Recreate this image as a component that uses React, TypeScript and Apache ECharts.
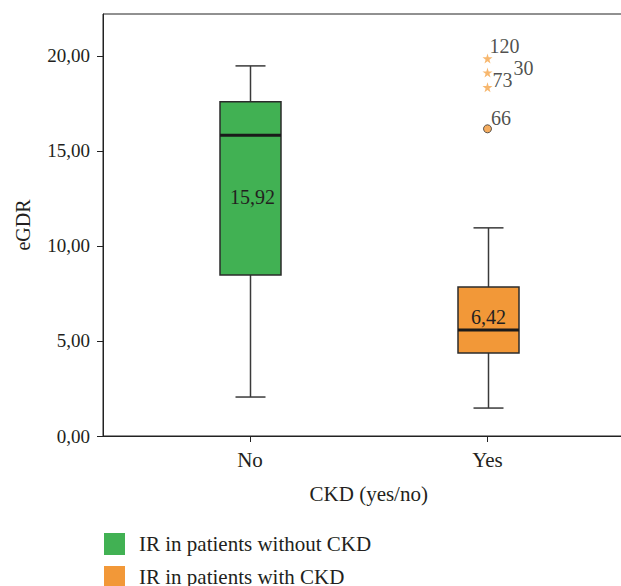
import React, { useEffect, useRef } from "react";
import * as echarts from "echarts";

// ---- data ----
const categories = ["No", "Yes"];
const seriesNames = ["IR in patients without CKD", "IR in patients with CKD"];
// [min, Q1, median, Q3, max]
const boxNo = [2.05, 8.47, 15.82, 17.58, 19.47];
const boxYes = [1.47, 4.37, 5.58, 7.84, 10.95];
const boxLabels = ["15,92", "6,42"];
const starOutliers = [19.86, 19.12, 18.35];
const starIds = ["120", "30", "73"];
const circleOutliers = [16.16];
const circleIds = ["66"];
const yTickValues = [0, 5, 10, 15, 20];
const yMax = 22.2;

// ---- styles ----
const FONT = "'Liberation Serif', 'DejaVu Serif', serif";
const TEXT = "#231f20";
const boxColors = ["#41b153", "#f29838"];
const boxLabelDy = [8.5, -3];
const boxLabelDx = [2, 0];
const starLabelOffsets = [
  [-3, -12],
  [21, -5],
  [0, -7],
];
const circleLabelOffsets = [[-1, -11]];

const fmt = (v: number) => v.toFixed(2).replace(".", ",");

function makeRender(idx: number) {
  return (params: any, api: any) => {
    const x = api.value(0);
    const pMin = api.coord([x, api.value(1)]);
    const pQ1 = api.coord([x, api.value(2)]);
    const pMed = api.coord([x, api.value(3)]);
    const pQ3 = api.coord([x, api.value(4)]);
    const pMax = api.coord([x, api.value(5)]);
    const cx = Math.round(pMin[0]) + 0.5;
    const bw = 61;
    const cw = 30;
    const wStroke = { stroke: "#3a3a3a", lineWidth: 1.5 };
    return {
      type: "group",
      children: [
        { type: "line", shape: { x1: cx, y1: pMax[1], x2: cx, y2: pQ3[1] }, style: wStroke },
        { type: "line", shape: { x1: cx, y1: pQ1[1], x2: cx, y2: pMin[1] }, style: wStroke },
        { type: "line", shape: { x1: cx - cw / 2, y1: pMax[1], x2: cx + cw / 2, y2: pMax[1] }, style: wStroke },
        { type: "line", shape: { x1: cx - cw / 2, y1: pMin[1], x2: cx + cw / 2, y2: pMin[1] }, style: wStroke },
        {
          type: "rect",
          shape: { x: cx - bw / 2, y: pQ3[1], width: bw, height: pQ1[1] - pQ3[1] },
          style: { fill: boxColors[idx], stroke: "#2b2b2b", lineWidth: 1.5 },
        },
        {
          type: "line",
          shape: { x1: cx - bw / 2, y1: pMed[1], x2: cx + bw / 2, y2: pMed[1] },
          style: { stroke: "#1a1a1a", lineWidth: 3 },
        },
        {
          type: "text",
          x: cx + boxLabelDx[idx],
          y: (pQ1[1] + pQ3[1]) / 2 + boxLabelDy[idx],
          style: {
            text: boxLabels[idx],
            fill: TEXT,
            font: `20px ${FONT}`,
            align: "center",
            verticalAlign: "middle",
          },
        },
      ],
    };
  };
}

const STAR =
  "path://M50,0 L61,35 L98,35 L68,57 L79,91 L50,70 L21,91 L32,57 L2,35 L39,35 Z";

export default function App() {
  const ref = useRef<HTMLDivElement>(null);
  useEffect(() => {
    if (!ref.current) return;
    const chart = echarts.init(ref.current, undefined, { renderer: "svg" });
    const option: any = {
      animation: false,
      backgroundColor: "#ffffff",
      textStyle: { fontFamily: FONT, color: TEXT },
      grid: [
        { left: 131.25, top: 14, width: 475, height: 422, containLabel: false },
        {
          left: 103,
          top: 14,
          width: 700,
          height: 422,
          show: true,
          borderColor: "#222",
          borderWidth: 1,
          containLabel: false,
        },
      ],
      xAxis: [
        {
          type: "category",
          gridIndex: 0,
          data: categories,
          boundaryGap: true,
          axisLine: { show: false },
          axisTick: { show: true, alignWithLabel: true, length: 6, lineStyle: { color: "#222" } },
          axisLabel: { fontSize: 21, color: TEXT, fontFamily: FONT, margin: 13 },
          name: "CKD (yes/no)",
          nameLocation: "middle",
          nameGap: 47,
          nameTextStyle: { fontSize: 21, color: TEXT, fontFamily: FONT },
        },
        {
          type: "value",
          gridIndex: 1,
          min: 0,
          max: 1,
          axisLine: { show: true, lineStyle: { color: "#222", width: 1 } },
          axisTick: { show: false },
          axisLabel: { show: false },
          splitLine: { show: false },
        },
      ],
      yAxis: [
        {
          type: "value",
          gridIndex: 0,
          min: 0,
          max: yMax,
          show: false,
          splitLine: { show: false },
        },
        {
          type: "value",
          gridIndex: 1,
          min: 0,
          max: yMax,
          interval: 5,
          axisLine: { show: true, lineStyle: { color: "#222", width: 1 } },
          axisTick: {
            show: true,
            length: 6,
            customValues: yTickValues,
            lineStyle: { color: "#222" },
          },
          axisLabel: {
            customValues: yTickValues,
            formatter: (v: number) => fmt(v),
            fontSize: 19,
            color: TEXT,
            fontFamily: FONT,
            margin: 13,
          },
          splitLine: { show: false },
        },
      ],
      legend: {
        data: seriesNames.map((n) => ({ name: n, icon: "rect" })),
        orient: "vertical",
        left: 104,
        top: 533,
        padding: 0,
        itemWidth: 21,
        itemHeight: 22,
        itemGap: 11,
        selectedMode: false,
        textStyle: { fontSize: 21, color: TEXT, fontFamily: FONT, padding: [0, 0, 0, 9] },
      },
      graphic: [
        {
          type: "text",
          x: 23,
          y: 225,
          rotation: Math.PI / 2,
          style: {
            text: "eGDR",
            font: `20px ${FONT}`,
            fill: TEXT,
            align: "center",
            verticalAlign: "middle",
          },
        },
      ],
      series: [
        {
          name: seriesNames[0],
          type: "custom",
          xAxisIndex: 0,
          yAxisIndex: 0,
          itemStyle: { color: boxColors[0] },
          renderItem: makeRender(0),
          encode: { x: 0, y: [1, 2, 3, 4, 5] },
          data: [[0, ...boxNo]],
        },
        {
          name: seriesNames[1],
          type: "custom",
          xAxisIndex: 0,
          yAxisIndex: 0,
          itemStyle: { color: boxColors[1] },
          renderItem: makeRender(1),
          encode: { x: 0, y: [1, 2, 3, 4, 5] },
          data: [[1, ...boxYes]],
        },
        {
          name: "extreme",
          type: "scatter",
          xAxisIndex: 0,
          yAxisIndex: 0,
          symbol: STAR,
          symbolSize: 10,
          itemStyle: { color: "#f5a54a" },
          data: starOutliers.map((v, i) => ({
            value: [1, v],
            label: {
              show: true,
              formatter: starIds[i],
              position: "right",
              distance: 0,
              offset: starLabelOffsets[i],
              fontSize: 20,
              color: TEXT,
              fontFamily: FONT,
            },
          })),
        },
        {
          name: "outlier",
          type: "scatter",
          xAxisIndex: 0,
          yAxisIndex: 0,
          symbol: "circle",
          symbolSize: 8,
          itemStyle: { color: "#f29838", borderColor: "#333", borderWidth: 1 },
          data: circleOutliers.map((v, i) => ({
            value: [1, v],
            label: {
              show: true,
              formatter: circleIds[i],
              position: "right",
              distance: 0,
              offset: circleLabelOffsets[i],
              fontSize: 20,
              color: TEXT,
              fontFamily: FONT,
            },
          })),
        },
      ],
    };
    chart.setOption(option);
    return () => chart.dispose();
  }, []);
  return (
    <div
      style={{
        position: "absolute",
        left: 0,
        top: 0,
        width: 621,
        height: 586,
        overflow: "hidden",
        background: "#fff",
      }}
    >
      <div ref={ref} style={{ width: 680, height: 640 }} />
    </div>
  );
}
